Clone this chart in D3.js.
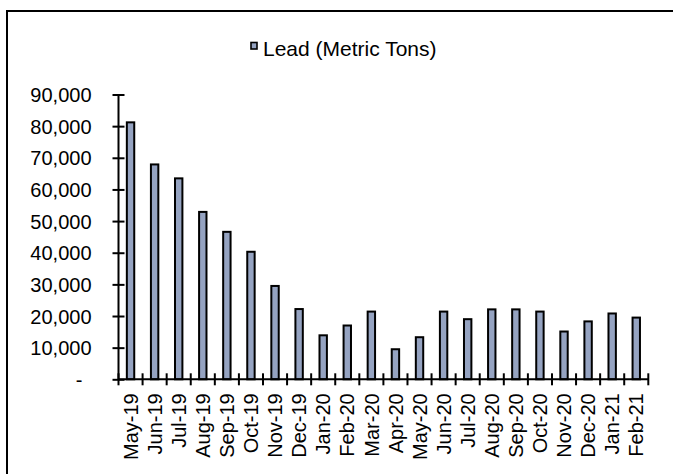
<!DOCTYPE html>
<html>
<head>
<meta charset="utf-8">
<script src="https://cdn.jsdelivr.net/npm/d3@7"></script>
<style>
  html, body { margin: 0; padding: 0; background: #fff; }
  svg { display: block; font-family: "Liberation Sans", Arial, sans-serif; }
</style>
</head>
<body>
<svg id="chart" width="673" height="474"></svg>
<script>
// Monthly lead stocks, metric tons
const months = ["May-19","Jun-19","Jul-19","Aug-19","Sep-19","Oct-19","Nov-19","Dec-19",
  "Jan-20","Feb-20","Mar-20","Apr-20","May-20","Jun-20","Jul-20","Aug-20","Sep-20","Oct-20",
  "Nov-20","Dec-20","Jan-21","Feb-21"];
const leadTons = [81200, 67900, 63500, 52900, 46600, 40300, 29500, 22200,
  13900, 17000, 21400, 9500, 13300, 21400, 19000, 22100, 22100, 21400,
  15100, 18300, 20800, 19500];
const yTicks = [0, 10000, 20000, 30000, 40000, 50000, 60000, 70000, 80000, 90000];
const seriesName = "Lead (Metric Tons)";

const svg = d3.select("#chart");
const barFill = "#95a3c1";
const fontSize = 20;

// outer frame (only top and left edges fall inside the canvas)
svg.append("rect")
  .attr("x", 7).attr("y", 11).attr("width", 700).attr("height", 500)
  .attr("fill", "#fff").attr("stroke", "#000").attr("stroke-width", 2);

const plotLeft = 118.5, plotRight = 648.3, plotTop = 94.5, plotBottom = 379.3;

const x = d3.scaleBand().domain(months).range([plotLeft, plotRight]).paddingInner(0).paddingOuter(0);
const y = d3.scaleLinear().domain([0, 90000]).range([plotBottom, plotTop]);

// bars
const bw = 7.4;
svg.append("g").selectAll("rect").data(leadTons).join("rect")
  .attr("x", (d, i) => x(months[i]) + x.bandwidth() / 2 - bw / 2)
  .attr("y", d => y(d))
  .attr("width", bw)
  .attr("height", d => y(0) - y(d))
  .attr("fill", barFill)
  .attr("stroke", "#000")
  .attr("stroke-width", 2);

// y axis: line with crossing ticks
const fmt = d => d === 0 ? "-" : d3.format(",")(d);
const yAxis = d3.axisLeft(y).tickValues(yTicks).tickFormat(fmt).tickSize(0).tickPadding(0);
const gy = svg.append("g").attr("transform", `translate(${plotLeft},0)`).call(yAxis);
gy.select(".domain").remove();
gy.selectAll(".tick text")
  .attr("x", d => d === 0 ? -36 : -27)
  .attr("dy", "0.35em")
  .attr("font-size", fontSize)
  .attr("font-family", "Liberation Sans, Arial, sans-serif")
  .attr("fill", "#000");
gy.selectAll(".tick").append("line")
  .attr("x1", -6).attr("x2", 6).attr("stroke", "#000").attr("stroke-width", 2);
svg.append("line")
  .attr("x1", plotLeft).attr("x2", plotLeft).attr("y1", plotTop).attr("y2", plotBottom)
  .attr("stroke", "#000").attr("stroke-width", 2);

// x axis: category-boundary ticks crossing the baseline
const xAxis = d3.axisBottom(x).tickSize(0).tickPadding(0);
const gx = svg.append("g").attr("transform", `translate(0,${plotBottom})`).call(xAxis);
gx.select(".domain").remove();
gx.selectAll(".tick text")
  .attr("font-size", fontSize)
  .attr("font-family", "Liberation Sans, Arial, sans-serif")
  .attr("fill", "#000")
  .attr("text-anchor", "end")
  .attr("transform", "translate(0,14) rotate(-90)")
  .attr("x", 0).attr("y", 0)
  .attr("dy", "0.36em");
const bounds = months.map(m => x(m)).concat([plotRight]);
svg.append("g").selectAll("line").data(bounds).join("line")
  .attr("x1", d => d).attr("x2", d => d)
  .attr("y1", plotBottom - 6).attr("y2", plotBottom + 6)
  .attr("stroke", "#000").attr("stroke-width", 2);
svg.append("line")
  .attr("x1", plotLeft).attr("x2", plotRight).attr("y1", plotBottom).attr("y2", plotBottom)
  .attr("stroke", "#000").attr("stroke-width", 2);

// legend
const lg = svg.append("g");
lg.append("rect").attr("x", 251).attr("y", 42.5).attr("width", 6).attr("height", 6.5)
  .attr("fill", barFill).attr("stroke", "#000").attr("stroke-width", 1.6);
lg.append("text").attr("x", 263).attr("y", 56)
  .attr("font-size", 21).attr("fill", "#000")
  .text(seriesName);
</script>
</body>
</html>
